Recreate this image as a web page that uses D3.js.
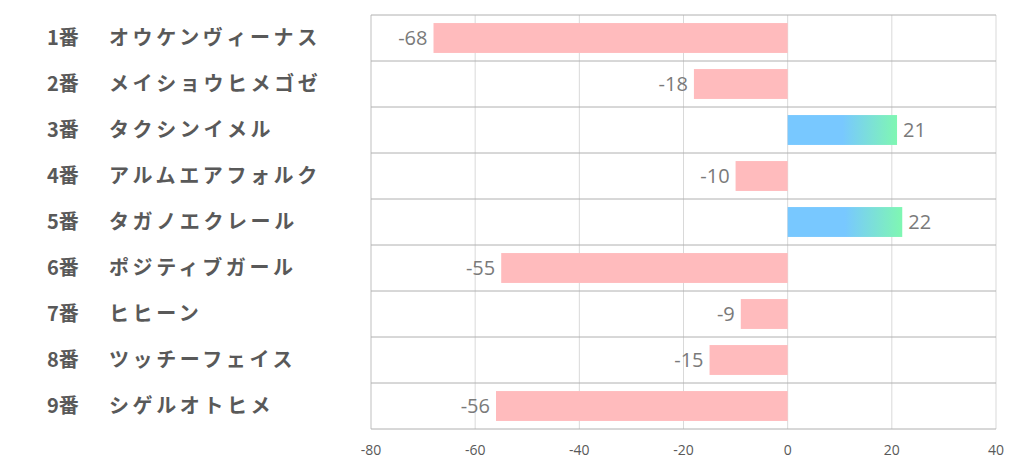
<!DOCTYPE html>
<html>
<head>
<meta charset="utf-8">
<script src="https://cdn.jsdelivr.net/npm/d3@7"></script>
<style>
  body { margin: 0; background: #fff; }
</style>
</head>
<body>
<div class="chart"></div>
<script>
let width = 1022
let height = 470

// horse numbers and names, top to bottom
let numbers = ['1番', '2番', '3番', '4番', '5番', '6番', '7番', '8番', '9番']
let names = ['オウケンヴィーナス', 'メイショウヒメゴゼ', 'タクシンイメル', 'アルムエアフォルク',
    'タガノエクレール', 'ポジティブガール', 'ヒヒーン', 'ツッチーフェイス', 'シゲルオトヒメ']
let values = [-68, -18, 21, -10, 22, -55, -9, -15, -56]
let ticks = [-80, -60, -40, -20, 0, 20, 40]

let margin = { top: 15, right: 26, bottom: 41, left: 371 }

let x = d3.scaleLinear().domain([-80, 40]).range([margin.left, width - margin.right])
let y = d3.scaleBand().domain(d3.range(numbers.length))
    .range([margin.top, height - margin.bottom])
    .paddingInner(0.35).paddingOuter(0.175)

let svg = d3.select('div.chart')
    .append('svg')
    .attr('width', width)
    .attr('height', height)

let defs = svg.append('defs')
let grad = defs.append('linearGradient')
    .attr('id', 'pos')
    .attr('x1', '0%').attr('x2', '100%')
grad.append('stop').attr('offset', '50%').attr('stop-color', '#78c8ff')
grad.append('stop').attr('offset', '100%').attr('stop-color', '#7ff7b2')

// vertical grid
svg.append('g')
    .selectAll('line')
    .data(ticks)
    .enter()
    .append('line')
    .attr('x1', d => x(d)).attr('x2', d => x(d))
    .attr('y1', margin.top).attr('y2', height - margin.bottom)
    .style('stroke', d => d == -80 ? '#bfbfbf' : '#d9d9d9')
    .style('stroke-width', 1)

// horizontal row lines
let step = y.step()
let rowLines = d3.range(numbers.length + 1).map(i => margin.top + i * step)
svg.append('g')
    .selectAll('line')
    .data(rowLines)
    .enter()
    .append('line')
    .attr('x1', x(-80)).attr('x2', x(40))
    .attr('y1', d => d).attr('y2', d => d)
    .style('stroke', '#b0b0b0')
    .style('stroke-width', 1)

// bars
svg.append('g')
    .selectAll('rect')
    .data(values)
    .enter()
    .append('rect')
    .attr('x', d => x(Math.min(0, d)))
    .attr('width', d => Math.abs(x(d) - x(0)))
    .attr('y', (d, i) => y(i))
    .attr('height', y.bandwidth())
    .style('fill', d => d < 0 ? '#ffbbbd' : 'url(#pos)')

// value labels
svg.append('g')
    .selectAll('text')
    .data(values)
    .enter()
    .append('text')
    .attr('x', d => d < 0 ? x(d) - 6 : x(d) + 6)
    .attr('y', (d, i) => y(i) + y.bandwidth() / 2)
    .attr('dy', '0.36em')
    .attr('text-anchor', d => d < 0 ? 'end' : 'start')
    .style('font-family', '"Open Sans", sans-serif')
    .style('font-size', '20px')
    .style('fill', '#7a7a7a')
    .text(d => d)

// x tick labels
svg.append('g')
    .selectAll('text')
    .data(ticks)
    .enter()
    .append('text')
    .attr('x', d => x(d))
    .attr('y', height - margin.bottom + 26)
    .attr('text-anchor', 'middle')
    .style('font-family', '"Open Sans", sans-serif')
    .style('font-size', '14px')
    .style('fill', '#595959')
    .text(d => d)

// row labels
let labels = svg.append('g')
    .selectAll('g')
    .data(numbers)
    .enter()
    .append('g')
    .style('font-family', '"Noto Sans CJK JP", sans-serif')
    .style('font-weight', 'bold')
    .style('font-size', '20px')
    .style('fill', '#595959')
labels.append('text')
    .attr('x', 47)
    .attr('y', (d, i) => y(i) + y.bandwidth() / 2)
    .attr('dy', '0.36em')
    .text(d => d)
labels.append('text')
    .attr('x', 109)
    .attr('y', (d, i) => y(i) + y.bandwidth() / 2)
    .attr('dy', '0.36em')
    .style('letter-spacing', '3.6px')
    .text((d, i) => names[i])
</script>
</body>
</html>
